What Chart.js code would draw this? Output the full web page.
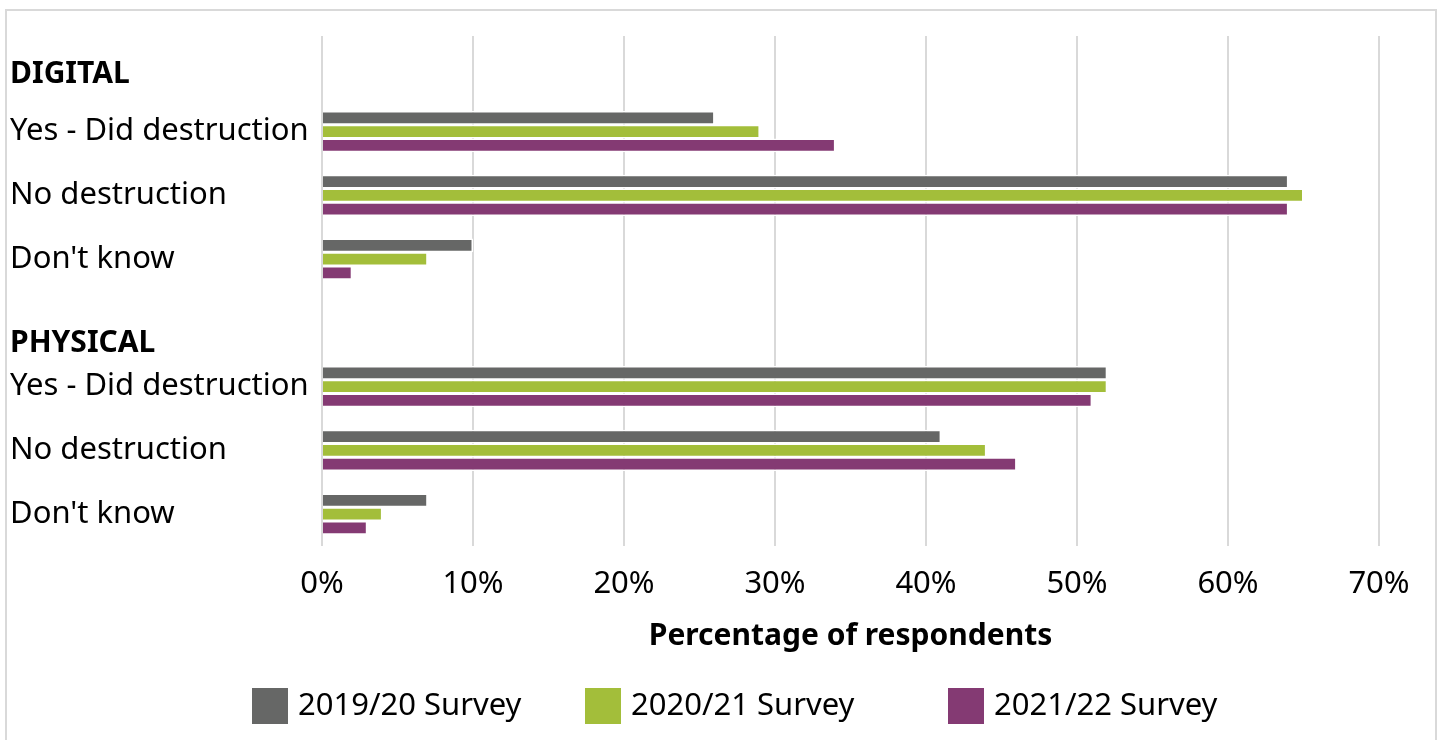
<!DOCTYPE html>
<html>
<head>
<meta charset="utf-8">
<title>Destruction of records</title>
<script src="https://cdn.jsdelivr.net/npm/chart.js@4.4.1/dist/chart.umd.min.js"></script>
<style>
  html, body { margin: 0; padding: 0; background: #fff; }
</style>
</head>
<body>
<canvas id="barChart" width="1443" height="740"></canvas>
<script>
// Survey results, percentage of respondents
const categories = [
  "DIGITAL",
  "Yes - Did destruction",
  "No destruction",
  "Don't know",
  "PHYSICAL",
  "Yes - Did destruction",
  "No destruction",
  "Don't know",
];
const headings = ["DIGITAL", "PHYSICAL"];
const seriesNames = ["2019/20 Survey", "2020/21 Survey", "2021/22 Survey"];
const survey1920 = [null, 26, 64, 10, null, 52, 41, 7];
const survey2021 = [null, 29, 65, 7, null, 52, 44, 4];
const survey2122 = [null, 34, 64, 2, null, 51, 46, 3];
const xTicks = [0, 10, 20, 30, 40, 50, 60, 70];

const colors = ["#666766", "#A3BE3A", "#843A73"];
const FONT = "'Noto Sans'";

// section headings sit a little below their row
const headingOffset = { DIGITAL: 7, PHYSICAL: 21 };
// left edge of each legend swatch
const legendX = [252, 585, 948];

const frame = {
  id: "frame",
  beforeDraw(chart) {
    const c = chart.ctx;
    c.save();
    c.strokeStyle = "#d9d9d9";
    c.lineWidth = 2;
    c.strokeRect(6, 10, 1430, 760);
    c.restore();
  },
};

const sectionHeadings = {
  id: "sectionHeadings",
  afterDraw(chart) {
    const c = chart.ctx;
    const y = chart.scales.y;
    c.save();
    c.font = "bold 30px " + FONT;
    c.fillStyle = "#000";
    c.textAlign = "left";
    c.textBaseline = "middle";
    categories.forEach((label, i) => {
      if (headings.includes(label)) {
        c.fillText(label, y.left, y.getPixelForValue(i) + headingOffset[label]);
      }
    });
    c.restore();
  },
};

const bottomLegend = {
  id: "bottomLegend",
  afterDraw(chart) {
    const c = chart.ctx;
    const box = 36, gap = 10, top = 688;
    c.save();
    c.font = "31px " + FONT;
    c.textBaseline = "middle";
    c.textAlign = "left";
    chart.data.datasets.forEach((ds, i) => {
      const x = legendX[i];
      c.fillStyle = ds.backgroundColor;
      c.fillRect(x, top, box, box);
      c.fillStyle = "#000";
      c.fillText(ds.label, x + box + gap, top + box / 2);
    });
    c.restore();
  },
};

const makeSet = (i, data) => ({
  label: seriesNames[i],
  data: data,
  backgroundColor: colors[i],
  borderColor: "#ffffff",
  borderWidth: 1.5,
  borderSkipped: "start",
  categoryPercentage: 0.645,
  barPercentage: 1,
});

const ctx = document.getElementById("barChart").getContext("2d");
new Chart(ctx, {
  type: "bar",
  data: {
    labels: categories,
    datasets: [
      makeSet(0, survey1920),
      makeSet(1, survey2021),
      makeSet(2, survey2122),
    ],
  },
  options: {
    indexAxis: "y",
    responsive: false,
    animation: false,
    layout: {
      padding: { top: 36, left: 10, right: 64, bottom: 85 },
    },
    plugins: {
      legend: { display: false },
      tooltip: { enabled: false },
    },
    scales: {
      x: {
        min: xTicks[0],
        max: xTicks[xTicks.length - 1],
        afterBuildTicks: (axis) => {
          axis.ticks = xTicks.map((v) => ({ value: v }));
        },
        afterFit: (axis) => {
          axis.height = 109;
        },
        grid: {
          color: "#d9d9d9",
          lineWidth: 2,
          drawTicks: false,
        },
        border: { display: false },
        ticks: {
          padding: 20,
          color: "#000",
          font: { family: FONT, size: 31 },
          callback: (v) => v + "%",
        },
        title: {
          display: true,
          text: "Percentage of respondents",
          color: "#000",
          font: { family: FONT, size: 30, weight: "bold" },
          padding: { top: 18, bottom: 1 },
        },
      },
      y: {
        afterFit: (axis) => {
          axis.width = 312;
        },
        grid: { display: false },
        border: { display: false },
        ticks: {
          crossAlign: "far",
          padding: 6,
          color: "#000",
          font: { family: FONT, size: 31 },
          callback: (v, i) => (headings.includes(categories[i]) ? "" : categories[i]),
        },
      },
    },
  },
  plugins: [frame, sectionHeadings, bottomLegend],
});
</script>
</body>
</html>
